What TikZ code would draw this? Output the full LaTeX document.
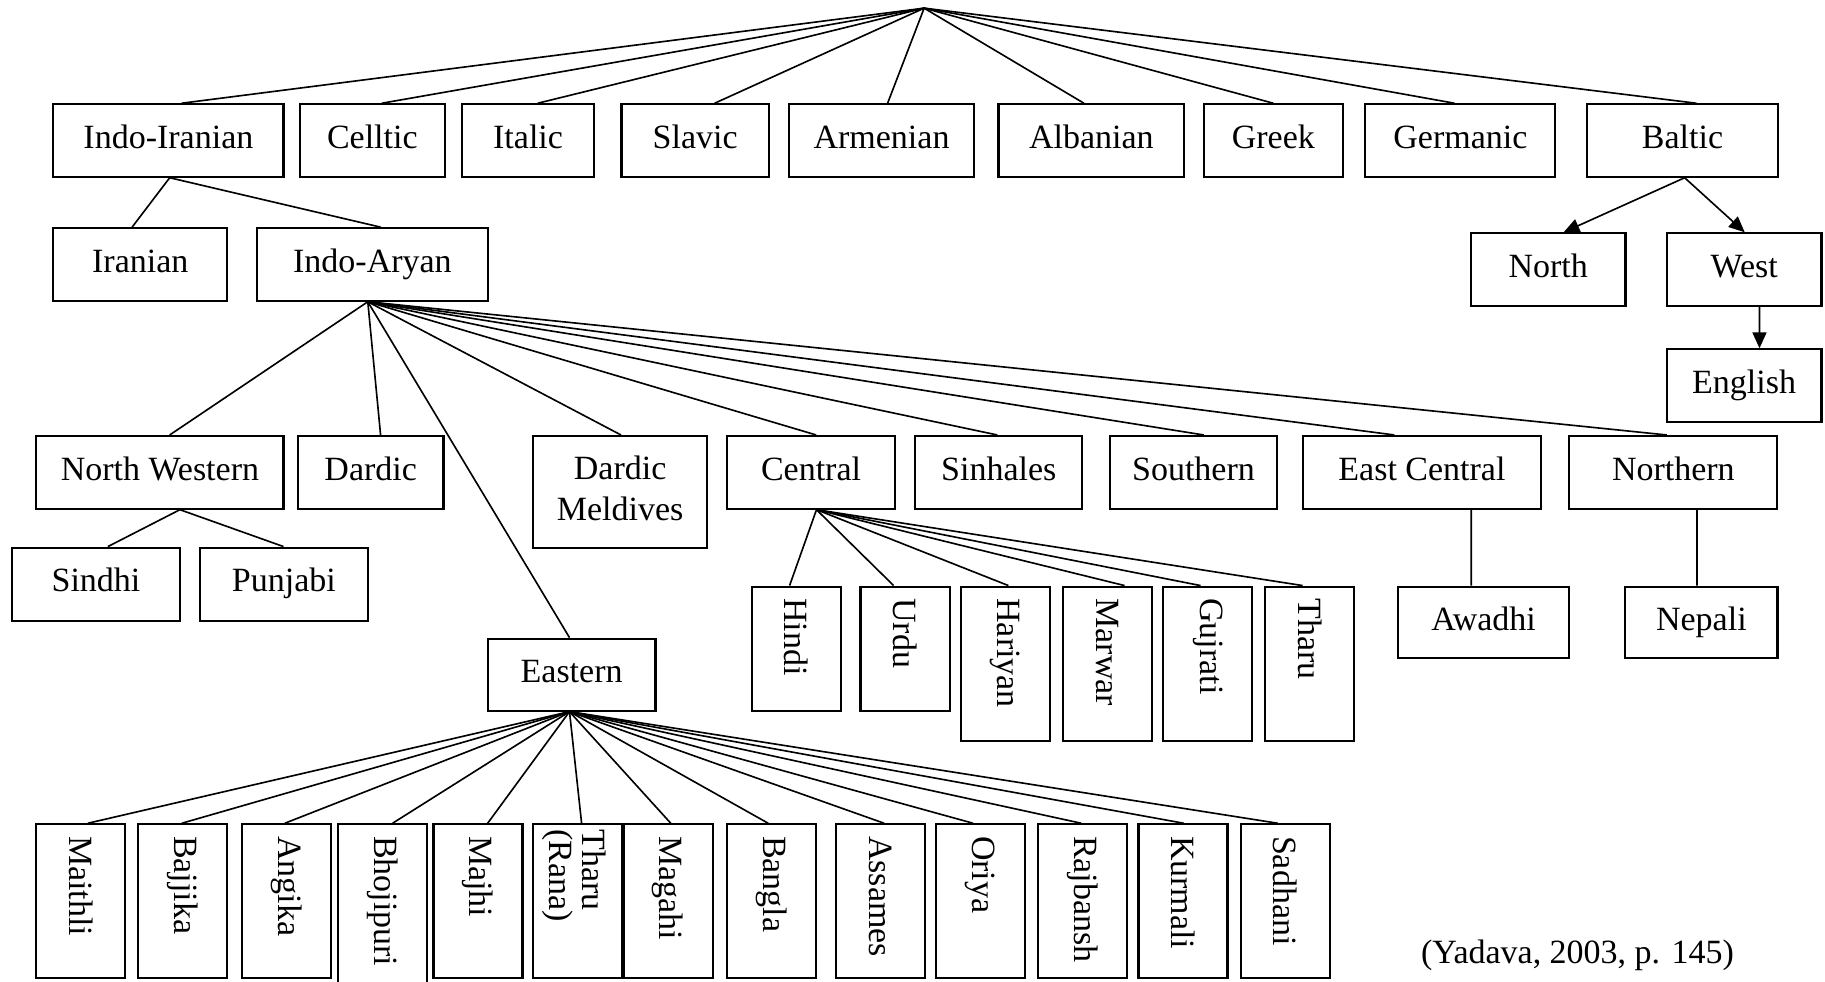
\documentclass[tikz,border=0pt]{standalone}
\usepackage{fontspec}
\setmainfont{Liberation Serif}
\usetikzlibrary{calc,arrows.meta}
\newcommand\diafont{\fontsize{14.6pt}{17.5pt}\selectfont}
\begin{document}
\begin{tikzpicture}[x=0.5pt,y=-0.5pt,
  boxline/.style={draw, line width=0.9pt, inner sep=0pt},
  hbox/.style={boxline, font=\diafont, text height=10.2pt, text depth=3.6pt},
  sz/.style 2 args={minimum width=#1*0.5pt, minimum height=#2*0.5pt},
  vtext/.style={rotate=-90, anchor=west, inner sep=0pt, font=\diafont},
  link/.style={line width=0.7pt},
  tip/.style={link, -{Triangle[length=6.8pt,width=6pt]}}]

\fill[white] (0,0) rectangle (1568,843);
\useasboundingbox (0,0) rectangle (1568,843);

\coordinate (root) at (794,7);

% branches of the family
\foreach \n/\t/\cx/\w/\d in {
  ii/Indo-Iranian/144.7/197.8/11.3, celt/Celltic/319.9/124.3/8.1,
  ital/Italic/453.7/114/8.3, slav/Slavic/597.3/126.6/16.7,
  arm/Armenian/757.4/159.2/5.2, alb/Albanian/937.7/159.7/-6.4,
  grk/Greek/1094/119.6/0, germ/Germanic/1254.7/163.2/-5,
  balt/Baltic/1445.6/163.7/11.9}
{
  \node[hbox, sz={\w}{62.2}] (\n) at (\cx,120.7) {\t};
  \draw[link] (root) -- ($(\n.north)+(\d,0)$);
}

% Indo-Iranian
\coordinate (iib) at ($(ii.south)+(1.1,0)$);
\foreach \n/\t/\cx/\w/\d in {iran/Iranian/120.5/149.4/-7, ia/Indo-Aryan/320/198/7}
{
  \node[hbox, sz={\w}{62.3}] (\n) at (\cx,227.2) {\t};
  \draw[link] (iib) -- ($(\n.north)+(\d,0)$);
}

% Baltic
\node[hbox, sz={132.8}{62.5}] (north) at (1330.2,231.7) {North};
\node[hbox, sz={132.7}{62.5}] (west) at (1498.6,231.7) {West};
\node[hbox, sz={133}{62.2}] (eng) at (1498.5,331.2) {English};
\coordinate (baltb) at ($(balt.south)+(1.8,0)$);
\draw[tip] (baltb) -- ($(north.north)+(13.2,0)$);
\draw[tip] (baltb) -- ($(west.north)+(0.4,0)$);
\draw[tip] ($(west.south)+(13.1,0)$) -- ($(eng.north)+(13.2,0)$);

% Indo-Aryan
\coordinate (iab) at ($(ia.south)+(-4,0)$);
\foreach \n/\t/\cx/\w/\d in {
  nw/North Western/137.4/212.4/8.4, dard/Dardic/318.5/125/8.5,
  cent/Central/696.8/144.2/4.4, sinh/Sinhales/858.1/143.6/-1.3,
  south/Southern/1025.4/144.2/8.8, ec/East Central/1221.7/203.9/-23.7,
  nrth/Northern/1437.7/178.8/-5.7}
{
  \node[hbox, sz={\w}{62.4}] (\n) at (\cx,405.8) {\t};
  \draw[link] (iab) -- ($(\n.north)+(\d,0)$);
}
\node[boxline, sz={149.5}{96.3}] (dm) at (532.8,422.8) {};
\node[font=\diafont, align=center, inner sep=0pt] (dmt) at ($(dm.center)+(0,-3)$) {Dardic\\Meldives};
\draw[link] (iab) -- ($(dm.north)+(0.8,0)$);
\node[hbox, sz={144.2}{61.8}] (east) at (491.1,579.6) {Eastern};
\draw[link] (iab) -- ($(east.north)+(-1.8,0)$);

% North Western
\coordinate (nwb) at ($(nw.south)+(17.2,0)$);
\foreach \n/\t/\cx/\d in {sindhi/Sindhi/82.5/10.2, punj/Punjabi/243.9/-0.3}
{
  \node[hbox, sz={144.2}{63}] (\n) at (\cx,502) {\t};
  \draw[link] (nwb) -- ($(\n.north)+(\d,0)$);
}

% East Central and Northern
\node[hbox, sz={147.3}{61.6}] (awadhi) at (1274.7,534.8) {Awadhi};
\node[hbox, sz={130.7}{61.6}] (nepali) at (1461.8,534.8) {Nepali};
\draw[link] ($(ec.south)+(42.3,0)$) -- ($(awadhi.north)+(-10.7,0)$);
\draw[link] ($(nrth.south)+(20.3,0)$) -- ($(nepali.north)+(-3.8,0)$);

% Central
\coordinate (centb) at ($(cent.south)+(4.7,0)$);
\foreach \n/\t/\cx/\h/\d in {
  hindi/Hindi/684/106.6/-5.6, urdu/Urdu/777.6/106.6/-9.8,
  hari/Hariyan/863.6/132.3/2.8, marw/Marwar/951.4/132.3/14.8,
  guj/Gujrati/1037.7/132.3/-6.2, thc/Tharu/1125.2/132.3/-6}
{
  \node[boxline, sz={76.5}{\h}] (\n) at ({\cx},{504+\h/2}) {};
  \node[vtext] at ($(\n.north)+(0,10.6)$) {\t};
  \draw[link] (centb) -- ($(\n.north)+(\d,0)$);
}

% Eastern
\coordinate (eastb) at ($(east.south)+(-1.8,0)$);
\foreach \n/\t/\cx/\h/\d in {
  maithli/Maithli/69.5/132.3/6, bajj/Bajjika/157/132.3/-0.8,
  angi/Angika/246.5/132.3/-1.8, bhoj/Bhojipuri/328.5/150/8.8,
  majhi/Majhi/410.7/132.3/8.3, maga/Magahi/574/132.3/2.3,
  bang/Bangla/663/132.3/-3, assa/Assames/756.4/132.3/3.2,
  oriya/Oriya/842.2/132.3/-6.2, rajb/Rajbansh/930/132.3/-1,
  kurm/Kurmali/1016.4/132.3/0.6, sadh/Sadhani/1104.2/132.3/-6.4}
{
  \node[boxline, sz={76.5}{\h}] (\n) at ({\cx},{708.2+\h/2}) {};
  \node[vtext] at ($(\n.north)+(0,10.6)$) {\t};
  \draw[link] (eastb) -- ($(\n.north)+(\d,0)$);
}
\node[boxline, sz={76.5}{132.3}] (thr) at (496.4,774.35) {};
\node[vtext, align=left] at ($(thr.north)+(-3,5)$) {Tharu\\[-3.5pt](Rana)};
\draw[link] (eastb) -- ($(thr.north)+(3.3,0)$);

% source
\node[font=\diafont, inner sep=0pt] (cite) at (1355.3,821) {(Yadava, 2003, p. 145)};
\end{tikzpicture}
\end{document}
